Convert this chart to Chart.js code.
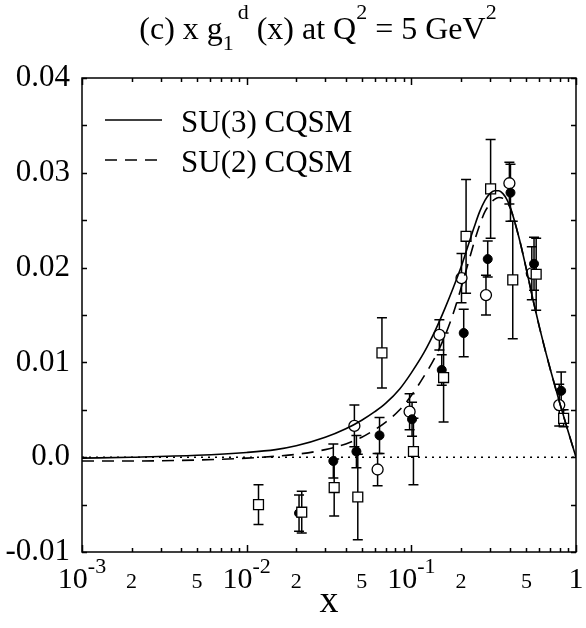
<!DOCTYPE html>
<html>
<head>
<meta charset="utf-8">
<script src="https://cdn.jsdelivr.net/npm/chart.js@4/dist/chart.umd.min.js"></script>
<style>
  html, body { margin: 0; padding: 0; background: #fff; }
</style>
</head>
<body>
<canvas id="chart" width="586" height="628"></canvas>
<script>
// model curves
const curveX   = [0.001, 0.002, 0.005, 0.01, 0.015, 0.02, 0.03, 0.04, 0.05, 0.06, 0.07, 0.085, 0.1, 0.12, 0.14, 0.16, 0.18, 0.2, 0.22, 0.24, 0.26, 0.28, 0.30, 0.32, 0.34, 0.36, 0.38, 0.40, 0.45, 0.5, 0.55, 0.6, 0.65, 0.7, 0.8, 0.9, 1.0];
const su3Curve = [-0.0001, 0.0000, 0.0002, 0.0005, 0.0008, 0.0012, 0.0021, 0.0030, 0.0039, 0.0048, 0.0057, 0.0072, 0.0089, 0.0111, 0.0134, 0.0157, 0.0179, 0.0200, 0.0222, 0.0242, 0.0259, 0.0271, 0.0278, 0.0281, 0.0281, 0.0278, 0.0272, 0.0263, 0.0232, 0.0198, 0.0165, 0.0137, 0.0113, 0.0092, 0.0056, 0.0026, 0.0000];
const su2Curve = [-0.0004, -0.0004, -0.0003, -0.0001, 0.0001, 0.0003, 0.0008, 0.0014, 0.0021, 0.0029, 0.0037, 0.0050, 0.0065, 0.0086, 0.0106, 0.0128, 0.0152, 0.0178, 0.0203, 0.0226, 0.0245, 0.0259, 0.0267, 0.0272, 0.0274, 0.0273, 0.0269, 0.0262, 0.0232, 0.0198, 0.0165, 0.0137, 0.0113, 0.0092, 0.0056, 0.0026, 0.0000];

// open squares
const squareX   = [0.0118, 0.0216, 0.034, 0.0473, 0.0663, 0.103, 0.157, 0.215, 0.303, 0.413, 0.573, 0.841];
const squareY   = [-0.0050, -0.0058, -0.0032, -0.0042, 0.0110, 0.0006, 0.0084, 0.0233, 0.0283, 0.0187, 0.0193, 0.0041];
const squareErr = [0.0021, 0.0022, 0.0030, 0.0045, 0.0037, 0.0035, 0.0047, 0.0060, 0.0052, 0.0062, 0.0038, 0.0009];

// filled circles
const dotX   = [0.0208, 0.0336, 0.0464, 0.0641, 0.101, 0.153, 0.208, 0.291, 0.400, 0.556, 0.813];
const dotY   = [-0.0059, -0.0004, 0.0006, 0.0023, 0.0040, 0.0092, 0.0131, 0.0209, 0.0279, 0.0204, 0.0070];
const dotErr = [0.0019, 0.0018, 0.0017, 0.0019, 0.0018, 0.0016, 0.0025, 0.0019, 0.0030, 0.0028, 0.0020];

// open circles
const ringX   = [0.0451, 0.0624, 0.0976, 0.148, 0.2017, 0.284, 0.394, 0.539, 0.791];
const ringY   = [0.0033, -0.0013, 0.0048, 0.0129, 0.0189, 0.0171, 0.0289, 0.0194, 0.0055];
const ringErr = [0.0022, 0.0017, 0.0019, 0.0016, 0.0026, 0.0021, 0.0022, 0.0028, 0.0022];

const zeroX = [0.001, 1];

// axes
const yTicks = [-0.01, 0, 0.01, 0.02, 0.03, 0.04];
const yTickLabels = ['-0.01', '0.0', '0.01', '0.02', '0.03', '0.04'];
const yMinorStep = 0.005;
const xTicks = [0.001, 0.002, 0.005, 0.01, 0.02, 0.05, 0.1, 0.2, 0.5, 1];
const xTickBase = ['10', '2', '5', '10', '2', '5', '10', '2', '5', '1'];
const xTickExp  = ['-3', '', '', '-2', '', '', '-1', '', '', ''];

const SERIF = '"Liberation Serif", "DejaVu Serif", serif';

const pts = (xs, ys) => xs.map((x, i) => ({ x, y: ys[i] }));

// draw text pieces with sub/superscripts, centred on cx
function richText(ctx, parts, cx, base, size) {
    let w = 0;
    parts.forEach(p => {
        ctx.font = Math.round(size * (p.s || 1)) + 'px ' + SERIF;
        p.w = ctx.measureText(p.t).width + (p.gap || 0) * size;
    });
    parts.forEach(p => w += p.w);
    let x = cx - w / 2;
    ctx.textAlign = 'left';
    ctx.textBaseline = 'alphabetic';
    parts.forEach(p => {
        ctx.font = Math.round(size * (p.s || 1)) + 'px ' + SERIF;
        ctx.fillText(p.t, x + (p.gap || 0) * size, base + (p.dy || 0) * size);
        x += p.w;
    });
}

const errorBars = {
    id: 'errorBars',
    beforeDatasetsDraw(chart) {
        const { ctx, scales: { x, y } } = chart;
        ctx.save();
        ctx.strokeStyle = '#000';
        ctx.lineWidth = 1.5;
        chart.data.datasets.forEach(ds => {
            if (!ds.errors) return;
            ds.data.forEach((p, i) => {
                const px = x.getPixelForValue(p.x);
                const y1 = y.getPixelForValue(p.y + ds.errors[i]);
                const y2 = y.getPixelForValue(p.y - ds.errors[i]);
                ctx.beginPath();
                ctx.moveTo(px, y1); ctx.lineTo(px, y2);
                ctx.moveTo(px - 5, y1); ctx.lineTo(px + 5, y1);
                ctx.moveTo(px - 5, y2); ctx.lineTo(px + 5, y2);
                ctx.stroke();
            });
        });
        ctx.restore();
    }
};

const frame = {
    id: 'frame',
    afterDraw(chart) {
        const { ctx, chartArea: a, scales: { x, y } } = chart;
        ctx.save();
        ctx.strokeStyle = '#000';
        ctx.fillStyle = '#000';
        ctx.lineWidth = 1.5;
        ctx.strokeRect(a.left, a.top, a.right - a.left, a.bottom - a.top);

        // y ticks, inward on both sides
        ctx.beginPath();
        for (let v = -0.01; v <= 0.04 + 1e-9; v += yMinorStep) {
            const py = Math.round(y.getPixelForValue(v)) + 0.5;
            ctx.moveTo(a.left, py); ctx.lineTo(a.left + 5, py);
            ctx.moveTo(a.right, py); ctx.lineTo(a.right - 5, py);
        }
        // x ticks, log decades with minor ticks
        for (let d = 0.001; d < 1.5; d *= 10) {
            for (let m = 1; m < 10; m++) {
                const v = d * m;
                if (v > 1.0001) break;
                const px = Math.round(x.getPixelForValue(v)) + 0.5;
                const len = m === 1 ? 7 : 4;
                ctx.moveTo(px, a.bottom); ctx.lineTo(px, a.bottom - len);
                ctx.moveTo(px, a.top); ctx.lineTo(px, a.top + len);
            }
        }
        ctx.stroke();

        // x tick labels
        xTicks.forEach((v, i) => {
            const px = x.getPixelForValue(v);
            if (xTickExp[i]) {
                richText(ctx, [{ t: xTickBase[i] }, { t: xTickExp[i], s: 0.72, dy: -0.5 }], px, 588, 30);
            } else if (xTickBase[i] === '1') {
                richText(ctx, [{ t: '1' }], px, 588, 30);
            } else {
                richText(ctx, [{ t: xTickBase[i] }], px, 588, 22);
            }
        });

        // axis title
        richText(ctx, [{ t: 'x' }], (a.left + a.right) / 2, 612, 38);

        // title
        richText(ctx, [
            { t: '(c) x g' },
            { t: '1', s: 0.7, dy: 0.33 },
            { t: 'd', s: 0.7, dy: -0.62, gap: 0.12 },
            { t: ' (x) at Q' },
            { t: '2', s: 0.7, dy: -0.62 },
            { t: ' = 5 GeV' },
            { t: '2', s: 0.7, dy: -0.62 }
        ], 318, 39, 32);

        // legend
        const rows = chart.data.datasets.filter(ds => ds.inLegend);
        rows.forEach((ds, i) => {
            const ly = 120 + i * 40;
            ctx.setLineDash(ds.borderDash || []);
            ctx.lineWidth = ds.borderWidth;
            ctx.beginPath();
            ctx.moveTo(105, ly); ctx.lineTo(162, ly);
            ctx.stroke();
            ctx.setLineDash([]);
            ctx.font = '31px ' + SERIF;
            ctx.textAlign = 'left';
            ctx.textBaseline = 'alphabetic';
            ctx.fillText(ds.label, 181, ly + 12);
        });
        ctx.restore();
    }
};

new Chart(document.getElementById('chart'), {
    type: 'line',
    data: {
        datasets: [
            {
                label: 'zero', data: pts(zeroX, [0, 0]),
                borderColor: '#000', borderWidth: 1.5, borderDash: [2, 5], pointRadius: 0
            },
            {
                label: 'SU(3) CQSM', data: pts(curveX, su3Curve), inLegend: true,
                borderColor: '#000', borderWidth: 1.6, pointRadius: 0, cubicInterpolationMode: 'monotone'
            },
            {
                label: 'SU(2) CQSM', data: pts(curveX, su2Curve), inLegend: true,
                borderColor: '#000', borderWidth: 1.6, borderDash: [12, 8], pointRadius: 0, cubicInterpolationMode: 'monotone'
            },
            {
                label: 'squares', data: pts(squareX, squareY), errors: squareErr, showLine: false,
                pointStyle: 'rect', pointRadius: 7, borderColor: '#000', backgroundColor: '#fff',
                pointBorderWidth: 1.3
            },
            {
                label: 'dots', data: pts(dotX, dotY), errors: dotErr, showLine: false,
                pointStyle: 'circle', pointRadius: 4.5, borderColor: '#000', backgroundColor: '#000',
                pointBorderWidth: 1
            },
            {
                label: 'rings', data: pts(ringX, ringY), errors: ringErr, showLine: false,
                pointStyle: 'circle', pointRadius: 5.5, borderColor: '#000', backgroundColor: '#fff',
                pointBorderWidth: 1.3
            }
        ]
    },
    options: {
        responsive: false,
        animation: false,
        devicePixelRatio: 1,
        layout: { padding: { top: 78, right: 10, left: 0, bottom: 0 } },
        plugins: { legend: { display: false }, tooltip: { enabled: false } },
        scales: {
            x: {
                type: 'logarithmic', min: 0.001, max: 1,
                ticks: { display: false },
                grid: { display: false, drawTicks: false },
                border: { display: false },
                afterFit: s => { s.height = 76; }
            },
            y: {
                min: -0.01, max: 0.04,
                afterBuildTicks: s => { s.ticks = yTicks.map(v => ({ value: v })); },
                ticks: {
                    callback: (v, i) => yTickLabels[i],
                    font: { family: SERIF, size: 31 },
                    color: '#000',
                    padding: 12
                },
                grid: { display: false, drawTicks: false },
                border: { display: false },
                afterFit: s => { s.width = 82; }
            }
        }
    },
    plugins: [errorBars, frame]
});
</script>
</body>
</html>
